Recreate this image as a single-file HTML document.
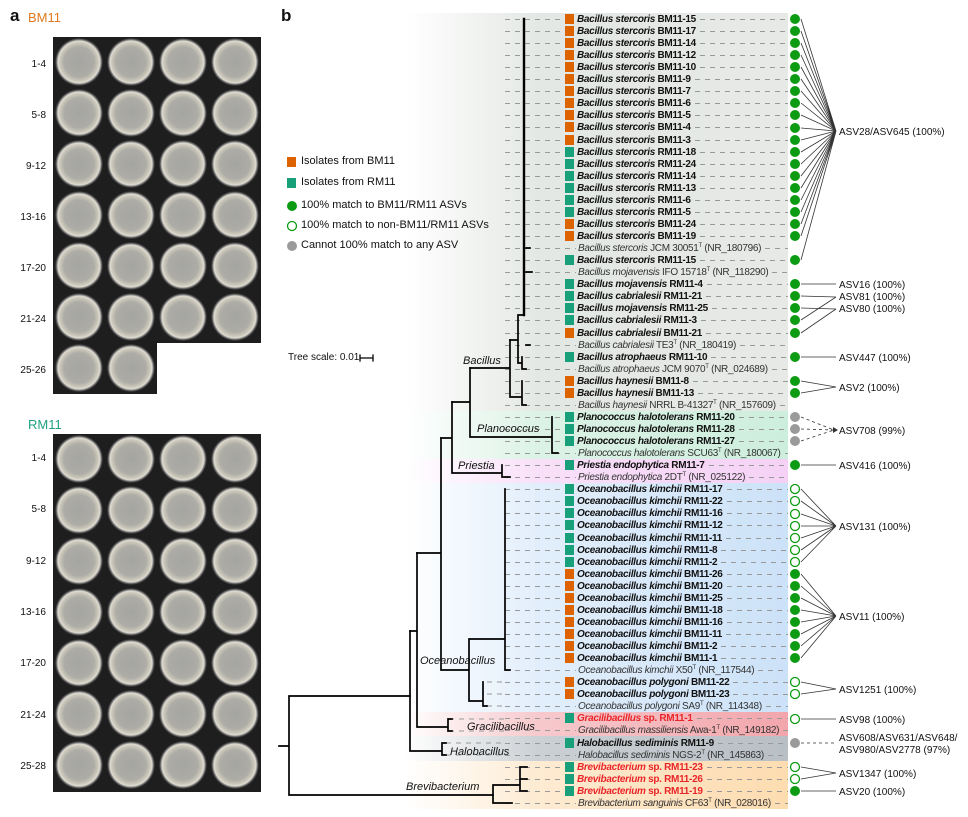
<!DOCTYPE html>
<html><head><meta charset="utf-8"><style>
*{margin:0;padding:0;box-sizing:border-box}
body{width:968px;height:817px;position:relative;background:#fff;font-family:"Liberation Sans",Arial,sans-serif;color:#111;overflow:hidden}
.abs{position:absolute}
.plates{position:absolute;left:53px;background:#1e1e1e radial-gradient(circle at 26px 25px,#a4a4a2 0,#adaca6 15px,#cbc7ba 19px,#dedbd2 21px,#6a6a6a 22.5px,#1e1e1e 24px) 0 0/52px 51px repeat}
.rl{position:absolute;width:40px;text-align:right;left:6px;font-size:10px}
.band{position:absolute;left:405px;width:383px}
.r{position:absolute;left:505px;width:283px;height:12px;display:flex;align-items:center;font-size:10px;letter-spacing:-0.3px;white-space:nowrap}
.d{width:58px;height:1px;background:repeating-linear-gradient(90deg,#999 0 5px,transparent 5px 10px)}
.dr{width:71px;height:1px;margin-right:2px;background:repeating-linear-gradient(90deg,#999 0 5px,transparent 5px 10px)}
.f{flex:1;height:1px;margin-left:4px;background:repeating-linear-gradient(90deg,#999 0 5px,transparent 5px 10px)}
.sq{width:9px;height:10px;margin:0 3px 0 2px;flex:none}
.o{background:#dd6200}.t{background:#17a07a}
.b{font-weight:bold}.b em{font-style:italic}
.n{font-weight:normal;color:#333}.n em{font-style:italic}
.red{color:#e8262a}
sup{font-size:6px;vertical-align:4px}
</style></head><body>
<div class="abs" style="left:10px;top:6px;font-size:17px;font-weight:bold">a</div>
<div class="abs" style="left:281px;top:6px;font-size:17px;font-weight:bold">b</div>
<div class="abs" style="left:28px;top:10px;font-size:13px;color:#e07a20">BM11</div>
<div class="plates" style="top:37px;width:208px;height:306px"></div>
<div class="plates" style="top:343px;width:104px;height:51px"></div>
<div class="rl" style="top:59px">1-4</div><div class="rl" style="top:110px">5-8</div><div class="rl" style="top:161px">9-12</div><div class="rl" style="top:212px">13-16</div><div class="rl" style="top:263px">17-20</div><div class="rl" style="top:314px">21-24</div><div class="rl" style="top:365px">25-26</div>
<div class="abs" style="left:28px;top:417px;font-size:13px;color:#20a080">RM11</div>
<div class="plates" style="top:434px;width:208px;height:358px"></div>
<div class="rl" style="top:453px">1-4</div><div class="rl" style="top:504px">5-8</div><div class="rl" style="top:556px">9-12</div><div class="rl" style="top:607px">13-16</div><div class="rl" style="top:658px">17-20</div><div class="rl" style="top:710px">21-24</div><div class="rl" style="top:761px">25-28</div>

<div class="band" style="top:13px;height:398px;background:linear-gradient(90deg,rgba(230,233,230,0),#e4e8e4 35%,#e6e9e6)"></div>
<div class="band" style="top:411px;height:48px;background:linear-gradient(90deg,rgba(214,240,226,0),#dcf2e6 35%,#cdeedd)"></div>
<div class="band" style="top:459px;height:24px;background:linear-gradient(90deg,rgba(246,220,246,0),#f8e0f8 35%,#f5d2f5)"></div>
<div class="band" style="top:483px;height:229px;background:linear-gradient(90deg,rgba(210,229,248,0),#e2eefb 35%,#cce2f8)"></div>
<div class="band" style="top:712px;height:24px;background:linear-gradient(90deg,rgba(242,169,174,0),#f6c9cc 35%,#f2a6ac)"></div>
<div class="band" style="top:736px;height:25px;background:linear-gradient(90deg,rgba(185,192,198,0),#cbd0d4 35%,#b8bfc5)"></div>
<div class="band" style="top:761px;height:48px;background:linear-gradient(90deg,rgba(253,226,189,0),#fdebd2 35%,#fddcb0)"></div>

<div class="abs" style="left:287px;top:157px;width:9px;height:10px;background:#dd6200"></div>
<div class="abs" style="left:301px;top:155px;font-size:11px">Isolates from BM11</div>
<div class="abs" style="left:287px;top:178px;width:9px;height:10px;background:#17a07a"></div>
<div class="abs" style="left:301px;top:176px;font-size:11px">Isolates from RM11</div>
<div class="abs" style="left:301px;top:199px;font-size:11px">100% match to BM11/RM11 ASVs</div>
<div class="abs" style="left:301px;top:219px;font-size:11px">100% match to non-BM11/RM11 ASVs</div>
<div class="abs" style="left:301px;top:239px;font-size:11px">Cannot 100% match to any ASV</div>
<div class="abs" style="left:288px;top:352px;font-size:10px">Tree scale: 0.01</div>

<div class="r" style="top:13px"><span class="d"></span><span class="sq o"></span><span class="b"><em>Bacillus stercoris</em> BM11-15</span><span class="f"></span></div>
<div class="r" style="top:25px"><span class="d"></span><span class="sq o"></span><span class="b"><em>Bacillus stercoris</em> BM11-17</span><span class="f"></span></div>
<div class="r" style="top:37px"><span class="d"></span><span class="sq o"></span><span class="b"><em>Bacillus stercoris</em> BM11-14</span><span class="f"></span></div>
<div class="r" style="top:49px"><span class="d"></span><span class="sq o"></span><span class="b"><em>Bacillus stercoris</em> BM11-12</span><span class="f"></span></div>
<div class="r" style="top:61px"><span class="d"></span><span class="sq o"></span><span class="b"><em>Bacillus stercoris</em> BM11-10</span><span class="f"></span></div>
<div class="r" style="top:73px"><span class="d"></span><span class="sq o"></span><span class="b"><em>Bacillus stercoris</em> BM11-9</span><span class="f"></span></div>
<div class="r" style="top:85px"><span class="d"></span><span class="sq o"></span><span class="b"><em>Bacillus stercoris</em> BM11-7</span><span class="f"></span></div>
<div class="r" style="top:97px"><span class="d"></span><span class="sq o"></span><span class="b"><em>Bacillus stercoris</em> BM11-6</span><span class="f"></span></div>
<div class="r" style="top:109px"><span class="d"></span><span class="sq o"></span><span class="b"><em>Bacillus stercoris</em> BM11-5</span><span class="f"></span></div>
<div class="r" style="top:121px"><span class="d"></span><span class="sq o"></span><span class="b"><em>Bacillus stercoris</em> BM11-4</span><span class="f"></span></div>
<div class="r" style="top:134px"><span class="d"></span><span class="sq o"></span><span class="b"><em>Bacillus stercoris</em> BM11-3</span><span class="f"></span></div>
<div class="r" style="top:146px"><span class="d"></span><span class="sq t"></span><span class="b"><em>Bacillus stercoris</em> RM11-18</span><span class="f"></span></div>
<div class="r" style="top:158px"><span class="d"></span><span class="sq t"></span><span class="b"><em>Bacillus stercoris</em> RM11-24</span><span class="f"></span></div>
<div class="r" style="top:170px"><span class="d"></span><span class="sq t"></span><span class="b"><em>Bacillus stercoris</em> RM11-14</span><span class="f"></span></div>
<div class="r" style="top:182px"><span class="d"></span><span class="sq t"></span><span class="b"><em>Bacillus stercoris</em> RM11-13</span><span class="f"></span></div>
<div class="r" style="top:194px"><span class="d"></span><span class="sq t"></span><span class="b"><em>Bacillus stercoris</em> RM11-6</span><span class="f"></span></div>
<div class="r" style="top:206px"><span class="d"></span><span class="sq t"></span><span class="b"><em>Bacillus stercoris</em> RM11-5</span><span class="f"></span></div>
<div class="r" style="top:218px"><span class="d"></span><span class="sq o"></span><span class="b"><em>Bacillus stercoris</em> BM11-24</span><span class="f"></span></div>
<div class="r" style="top:230px"><span class="d"></span><span class="sq o"></span><span class="b"><em>Bacillus stercoris</em> BM11-19</span><span class="f"></span></div>
<div class="r" style="top:242px"><span class="dr"></span><span class="n"><em>Bacillus stercoris</em> JCM 30051<sup>T</sup> (NR_180796)</span><span class="f"></span></div>
<div class="r" style="top:254px"><span class="d"></span><span class="sq t"></span><span class="b"><em>Bacillus stercoris</em> RM11-15</span><span class="f"></span></div>
<div class="r" style="top:266px"><span class="dr"></span><span class="n"><em>Bacillus mojavensis</em> IFO 15718<sup>T</sup> (NR_118290)</span><span class="f"></span></div>
<div class="r" style="top:278px"><span class="d"></span><span class="sq t"></span><span class="b"><em>Bacillus mojavensis</em> RM11-4</span><span class="f"></span></div>
<div class="r" style="top:290px"><span class="d"></span><span class="sq t"></span><span class="b"><em>Bacillus cabrialesii</em> RM11-21</span><span class="f"></span></div>
<div class="r" style="top:302px"><span class="d"></span><span class="sq t"></span><span class="b"><em>Bacillus mojavensis</em> RM11-25</span><span class="f"></span></div>
<div class="r" style="top:314px"><span class="d"></span><span class="sq t"></span><span class="b"><em>Bacillus cabrialesii</em> RM11-3</span><span class="f"></span></div>
<div class="r" style="top:327px"><span class="d"></span><span class="sq o"></span><span class="b"><em>Bacillus cabrialesii</em> BM11-21</span><span class="f"></span></div>
<div class="r" style="top:339px"><span class="dr"></span><span class="n"><em>Bacillus cabrialesii</em> TE3<sup>T</sup> (NR_180419)</span><span class="f"></span></div>
<div class="r" style="top:351px"><span class="d"></span><span class="sq t"></span><span class="b"><em>Bacillus atrophaeus</em> RM11-10</span><span class="f"></span></div>
<div class="r" style="top:363px"><span class="dr"></span><span class="n"><em>Bacillus atrophaeus</em> JCM 9070<sup>T</sup> (NR_024689)</span><span class="f"></span></div>
<div class="r" style="top:375px"><span class="d"></span><span class="sq o"></span><span class="b"><em>Bacillus haynesii</em> BM11-8</span><span class="f"></span></div>
<div class="r" style="top:387px"><span class="d"></span><span class="sq o"></span><span class="b"><em>Bacillus haynesii</em> BM11-13</span><span class="f"></span></div>
<div class="r" style="top:399px"><span class="dr"></span><span class="n"><em>Bacillus haynesii</em> NRRL B-41327<sup>T</sup> (NR_157609)</span><span class="f"></span></div>
<div class="r" style="top:411px"><span class="d"></span><span class="sq t"></span><span class="b"><em>Planococcus halotolerans</em> RM11-20</span><span class="f"></span></div>
<div class="r" style="top:423px"><span class="d"></span><span class="sq t"></span><span class="b"><em>Planococcus halotolerans</em> RM11-28</span><span class="f"></span></div>
<div class="r" style="top:435px"><span class="d"></span><span class="sq t"></span><span class="b"><em>Planococcus halotolerans</em> RM11-27</span><span class="f"></span></div>
<div class="r" style="top:447px"><span class="dr"></span><span class="n"><em>Planococcus halotolerans</em> SCU63<sup>T</sup> (NR_180067)</span><span class="f"></span></div>
<div class="r" style="top:459px"><span class="d"></span><span class="sq t"></span><span class="b"><em>Priestia endophytica</em> RM11-7</span><span class="f"></span></div>
<div class="r" style="top:471px"><span class="dr"></span><span class="n"><em>Priestia endophytica</em> 2DT<sup>T</sup> (NR_025122)</span><span class="f"></span></div>
<div class="r" style="top:483px"><span class="d"></span><span class="sq t"></span><span class="b"><em>Oceanobacillus kimchii</em> RM11-17</span><span class="f"></span></div>
<div class="r" style="top:495px"><span class="d"></span><span class="sq t"></span><span class="b"><em>Oceanobacillus kimchii</em> RM11-22</span><span class="f"></span></div>
<div class="r" style="top:507px"><span class="d"></span><span class="sq t"></span><span class="b"><em>Oceanobacillus kimchii</em> RM11-16</span><span class="f"></span></div>
<div class="r" style="top:519px"><span class="d"></span><span class="sq t"></span><span class="b"><em>Oceanobacillus kimchii</em> RM11-12</span><span class="f"></span></div>
<div class="r" style="top:532px"><span class="d"></span><span class="sq t"></span><span class="b"><em>Oceanobacillus kimchii</em> RM11-11</span><span class="f"></span></div>
<div class="r" style="top:544px"><span class="d"></span><span class="sq t"></span><span class="b"><em>Oceanobacillus kimchii</em> RM11-8</span><span class="f"></span></div>
<div class="r" style="top:556px"><span class="d"></span><span class="sq t"></span><span class="b"><em>Oceanobacillus kimchii</em> RM11-2</span><span class="f"></span></div>
<div class="r" style="top:568px"><span class="d"></span><span class="sq o"></span><span class="b"><em>Oceanobacillus kimchii</em> BM11-26</span><span class="f"></span></div>
<div class="r" style="top:580px"><span class="d"></span><span class="sq o"></span><span class="b"><em>Oceanobacillus kimchii</em> BM11-20</span><span class="f"></span></div>
<div class="r" style="top:592px"><span class="d"></span><span class="sq o"></span><span class="b"><em>Oceanobacillus kimchii</em> BM11-25</span><span class="f"></span></div>
<div class="r" style="top:604px"><span class="d"></span><span class="sq o"></span><span class="b"><em>Oceanobacillus kimchii</em> BM11-18</span><span class="f"></span></div>
<div class="r" style="top:616px"><span class="d"></span><span class="sq o"></span><span class="b"><em>Oceanobacillus kimchii</em> BM11-16</span><span class="f"></span></div>
<div class="r" style="top:628px"><span class="d"></span><span class="sq o"></span><span class="b"><em>Oceanobacillus kimchii</em> BM11-11</span><span class="f"></span></div>
<div class="r" style="top:640px"><span class="d"></span><span class="sq o"></span><span class="b"><em>Oceanobacillus kimchii</em> BM11-2</span><span class="f"></span></div>
<div class="r" style="top:652px"><span class="d"></span><span class="sq o"></span><span class="b"><em>Oceanobacillus kimchii</em> BM11-1</span><span class="f"></span></div>
<div class="r" style="top:664px"><span class="dr"></span><span class="n"><em>Oceanobacillus kimchii</em> X50<sup>T</sup> (NR_117544)</span><span class="f"></span></div>
<div class="r" style="top:676px"><span class="d"></span><span class="sq o"></span><span class="b"><em>Oceanobacillus polygoni</em> BM11-22</span><span class="f"></span></div>
<div class="r" style="top:688px"><span class="d"></span><span class="sq o"></span><span class="b"><em>Oceanobacillus polygoni</em> BM11-23</span><span class="f"></span></div>
<div class="r" style="top:700px"><span class="dr"></span><span class="n"><em>Oceanobacillus polygoni</em> SA9<sup>T</sup> (NR_114348)</span><span class="f"></span></div>
<div class="r" style="top:712px"><span class="d"></span><span class="sq t"></span><span class="b red"><em>Gracilibacillus</em> sp. RM11-1</span><span class="f"></span></div>
<div class="r" style="top:724px"><span class="dr"></span><span class="n"><em>Gracilibacillus massiliensis</em> Awa-1<sup>T</sup> (NR_149182)</span><span class="f"></span></div>
<div class="r" style="top:737px"><span class="d"></span><span class="sq t"></span><span class="b"><em>Halobacillus sediminis</em> RM11-9</span><span class="f"></span></div>
<div class="r" style="top:749px"><span class="dr"></span><span class="n"><em>Halobacillus sediminis</em> NGS-2<sup>T</sup> (NR_145863)</span><span class="f"></span></div>
<div class="r" style="top:761px"><span class="d"></span><span class="sq t"></span><span class="b red"><em>Brevibacterium</em> sp. RM11-23</span><span class="f"></span></div>
<div class="r" style="top:773px"><span class="d"></span><span class="sq t"></span><span class="b red"><em>Brevibacterium</em> sp. RM11-26</span><span class="f"></span></div>
<div class="r" style="top:785px"><span class="d"></span><span class="sq t"></span><span class="b red"><em>Brevibacterium</em> sp. RM11-19</span><span class="f"></span></div>
<div class="r" style="top:797px"><span class="dr"></span><span class="n"><em>Brevibacterium sanguinis</em> CF63<sup>T</sup> (NR_028016)</span><span class="f"></span></div>

<svg class="abs" style="left:0;top:0" width="968" height="817" viewBox="0 0 968 817">
<g stroke="#999" stroke-dasharray="5 5" stroke-width="1" fill="none">
<path d="M487 682H505M487 694H505M487 706H505M449 719H505M449 731H505M446 743H505M446 755H505M510 477H505"/>
</g>
<g stroke="#000" stroke-width="1.7" fill="none" stroke-linecap="square">
<path d="M279 746H289M289 696V795M289 696H410M289 795H493"/>
<path d="M493 785V803H512M493 785H520M520 767V791M520 767H527M520 779H527M520 791H527"/>
<path d="M410 631V751H442M442 743V755M442 743H446M442 755H446"/>
<path d="M410 631H417M417 553V727H448M448 719V731M448 719H452M448 731H452"/>
<path d="M417 553H441M441 438V670H469M469 639V701M469 639H505M505 489V670M505 670H510M469 701H483M483 682V706M483 706H487"/>
<path d="M441 438H452M452 402V473H502M502 465V477H510"/>
<path d="M452 402H470M470 368V437H552M552 417V453H558"/>
<path d="M470 368H510M510 340V397H522M522 381V405H526"/>
<path d="M510 340H518M518 315V363H522M522 357V369H526M518 315H524"/>
<path d="M524 19V315" stroke-width="2.4"/>
<path d="M526 248H530M526 272H532M526 345H530"/>
<path d="M360 355V361M360 358H373M373 355V361" stroke-width="1.3"/>
</g>
<g font-family="Liberation Sans, Arial, sans-serif" font-style="italic" font-size="11" fill="#111">
<text x="463" y="364">Bacillus</text>
<text x="477" y="432">Planococcus</text>
<text x="458" y="469">Priestia</text>
<text x="420" y="664">Oceanobacillus</text>
<text x="467" y="730">Gracilibacillus</text>
<text x="450" y="755">Halobacillus</text>
<text x="406" y="790">Brevibacterium</text>
</g>
<circle cx="292" cy="206" r="5" fill="#0c9b12"/>
<circle cx="292" cy="226" r="4.5" fill="#fff" stroke="#0c9b12" stroke-width="1.3"/>
<circle cx="292" cy="246" r="5" fill="#9a9a9a"/>
<g stroke="#333" stroke-width="0.8" fill="none">
<path d="M801 19L836 131M801 31L836 131M801 43L836 131M801 55L836 131M801 67L836 131M801 79L836 131M801 91L836 131M801 103L836 131M801 115L836 131M801 128L836 131M801 140L836 131M801 152L836 131M801 164L836 131M801 176L836 131M801 188L836 131M801 200L836 131M801 212L836 131M801 224L836 131M801 236L836 131M801 260L836 131"/>
<path d="M801 284H836M801 296L836 297M801 320L836 297M801 308L836 309M801 333L836 309M801 357H836M801 381L836 387M801 393L836 387M801 465H836"/>
<path d="M801 489L836 526M801 501L836 526M801 514L836 526M801 526L836 526M801 538L836 526M801 550L836 526M801 562L836 526"/>
<path d="M801 574L836 616M801 586L836 616M801 598L836 616M801 610L836 616M801 622L836 616M801 634L836 616M801 646L836 616M801 658L836 616"/>
<path d="M801 682L836 689M801 694L836 689M801 719H836M801 767L836 773M801 779L836 773M801 791H836"/>
<path d="M801 417L834 430M801 429L834 430M801 441L834 430M801 743H836" stroke-dasharray="3 3"/>
</g>
<path d="M833 427L838 430L833 433Z" fill="#333"/>
<g fill="#0c9b12">
<circle cx="795" cy="19" r="5"/><circle cx="795" cy="31" r="5"/><circle cx="795" cy="43" r="5"/><circle cx="795" cy="55" r="5"/><circle cx="795" cy="67" r="5"/><circle cx="795" cy="79" r="5"/><circle cx="795" cy="91" r="5"/><circle cx="795" cy="103" r="5"/><circle cx="795" cy="115" r="5"/><circle cx="795" cy="128" r="5"/><circle cx="795" cy="140" r="5"/><circle cx="795" cy="152" r="5"/><circle cx="795" cy="164" r="5"/><circle cx="795" cy="176" r="5"/><circle cx="795" cy="188" r="5"/><circle cx="795" cy="200" r="5"/><circle cx="795" cy="212" r="5"/><circle cx="795" cy="224" r="5"/><circle cx="795" cy="236" r="5"/><circle cx="795" cy="260" r="5"/>
<circle cx="795" cy="284" r="5"/><circle cx="795" cy="296" r="5"/><circle cx="795" cy="308" r="5"/><circle cx="795" cy="320" r="5"/><circle cx="795" cy="333" r="5"/><circle cx="795" cy="357" r="5"/><circle cx="795" cy="381" r="5"/><circle cx="795" cy="393" r="5"/><circle cx="795" cy="465" r="5"/>
<circle cx="795" cy="574" r="5"/><circle cx="795" cy="586" r="5"/><circle cx="795" cy="598" r="5"/><circle cx="795" cy="610" r="5"/><circle cx="795" cy="622" r="5"/><circle cx="795" cy="634" r="5"/><circle cx="795" cy="646" r="5"/><circle cx="795" cy="658" r="5"/><circle cx="795" cy="791" r="5"/>
</g>
<g fill="#9a9a9a"><circle cx="795" cy="417" r="5"/><circle cx="795" cy="429" r="5"/><circle cx="795" cy="441" r="5"/><circle cx="795" cy="743" r="5"/></g>
<g fill="#fff" stroke="#0c9b12" stroke-width="1.3">
<circle cx="795" cy="489" r="4.5"/><circle cx="795" cy="501" r="4.5"/><circle cx="795" cy="514" r="4.5"/><circle cx="795" cy="526" r="4.5"/><circle cx="795" cy="538" r="4.5"/><circle cx="795" cy="550" r="4.5"/><circle cx="795" cy="562" r="4.5"/>
<circle cx="795" cy="682" r="4.5"/><circle cx="795" cy="694" r="4.5"/><circle cx="795" cy="719" r="4.5"/><circle cx="795" cy="767" r="4.5"/><circle cx="795" cy="779" r="4.5"/>
</g>
<g font-family="Liberation Sans, Arial, sans-serif" font-size="10" fill="#111">
<text x="839" y="135">ASV28/ASV645 (100%)</text>
<text x="839" y="288">ASV16 (100%)</text>
<text x="839" y="300">ASV81 (100%)</text>
<text x="839" y="312">ASV80 (100%)</text>
<text x="839" y="361">ASV447 (100%)</text>
<text x="839" y="391">ASV2 (100%)</text>
<text x="839" y="434">ASV708 (99%)</text>
<text x="839" y="469">ASV416 (100%)</text>
<text x="839" y="530">ASV131 (100%)</text>
<text x="839" y="620">ASV11 (100%)</text>
<text x="839" y="693">ASV1251 (100%)</text>
<text x="839" y="723">ASV98 (100%)</text>
<text x="839" y="741">ASV608/ASV631/ASV648/</text>
<text x="839" y="753">ASV980/ASV2778 (97%)</text>
<text x="839" y="777">ASV1347 (100%)</text>
<text x="839" y="795">ASV20 (100%)</text>
</g>
</svg>
</body></html>
